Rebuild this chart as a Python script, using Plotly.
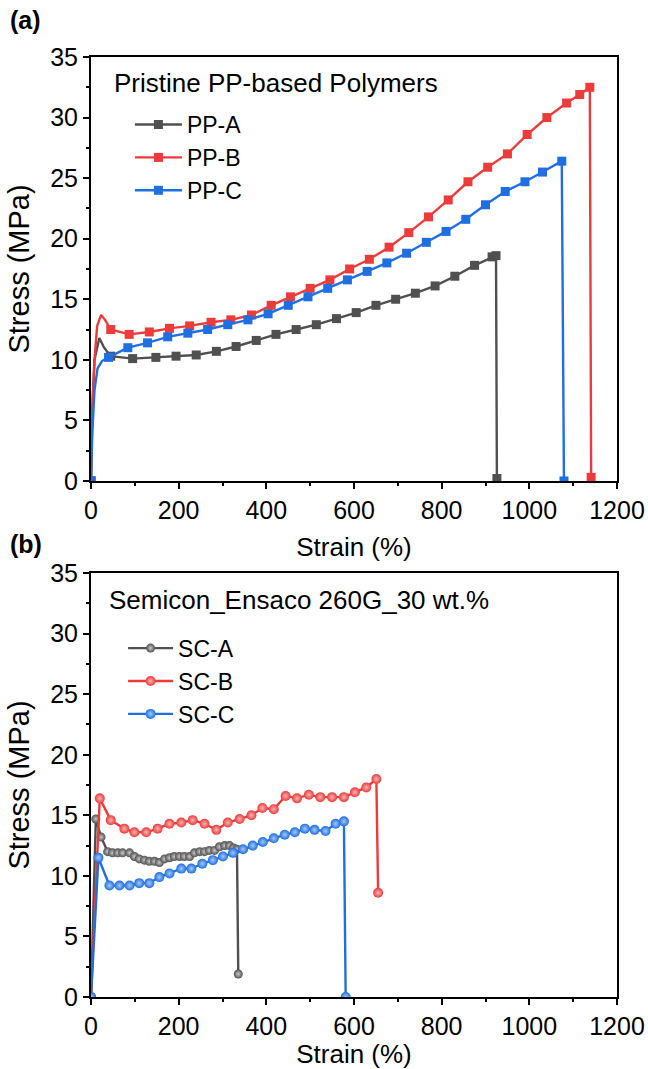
import plotly.graph_objects as go

# ---------------- data (a) pristine PP ----------------
ppa_strain = [0, 3, 8, 19, 30, 45, 95, 148, 194, 240, 286, 331, 377, 422, 468, 514, 560, 605, 650, 695, 740, 785, 830, 875, 915, 924, 926]
ppa_stress = [0, 6, 10, 11.8, 11.0, 10.3, 10.1, 10.2, 10.3, 10.4, 10.7, 11.1, 11.6, 12.1, 12.5, 12.9, 13.4, 13.9, 14.5, 15.0, 15.5, 16.1, 16.9, 17.8, 18.5, 18.6, 0.2]

ppb_strain = [0, 3, 8, 14, 23, 32, 45, 87, 133, 179, 225, 274, 319, 366, 411, 455, 500, 545, 590, 635, 680, 725, 770, 815, 860, 905, 950, 995, 1040, 1085, 1115, 1138, 1141]
ppb_stress = [0, 6, 10, 12.8, 13.7, 13.3, 12.5, 12.1, 12.3, 12.6, 12.8, 13.1, 13.3, 13.7, 14.5, 15.2, 15.9, 16.6, 17.5, 18.3, 19.3, 20.5, 21.8, 23.2, 24.7, 25.9, 27.0, 28.6, 30.0, 31.2, 31.9, 32.5, 0.3]

ppc_strain = [0, 3, 8, 15, 25, 40, 84, 129, 175, 221, 266, 312, 358, 404, 450, 495, 540, 585, 630, 675, 720, 765, 810, 855, 900, 945, 990, 1030, 1074, 1079]
ppc_stress = [0, 4, 7.5, 9.3, 9.9, 10.2, 11.0, 11.4, 11.9, 12.2, 12.5, 12.9, 13.3, 13.8, 14.5, 15.2, 15.9, 16.6, 17.3, 18.0, 18.8, 19.7, 20.6, 21.6, 22.8, 23.9, 24.7, 25.5, 26.4, 0]

# ---------------- data (b) semicon ----------------
sca_strain = [0, 11, 23, 38, 49, 61, 72, 88, 99, 110, 122, 133, 145, 156, 168, 179, 190, 202, 213, 225, 236, 248, 259, 270, 282, 293, 305, 316, 325, 333, 336]
sca_stress = [0, 14.7, 13.2, 12.0, 11.9, 11.9, 11.9, 11.9, 11.6, 11.4, 11.3, 11.2, 11.2, 11.1, 11.4, 11.5, 11.6, 11.6, 11.6, 11.6, 11.9, 12.0, 12.0, 12.1, 12.1, 12.4, 12.5, 12.5, 12.3, 12.2, 1.9]

scb_strain = [0, 20, 45, 76, 99, 126, 152, 179, 206, 232, 259, 286, 312, 339, 366, 391, 417, 444, 470, 497, 523, 550, 577, 602, 628, 651, 655]
scb_stress = [0, 16.4, 14.6, 13.9, 13.6, 13.6, 13.9, 14.3, 14.4, 14.6, 14.3, 13.8, 14.4, 14.7, 15.0, 15.6, 15.5, 16.6, 16.4, 16.7, 16.5, 16.5, 16.5, 16.9, 17.3, 18.0, 8.6]

scc_strain = [0, 17, 42, 65, 88, 110, 133, 156, 179, 206, 229, 254, 278, 301, 324, 347, 369, 392, 417, 442, 465, 488, 510, 535, 558, 577, 581]
scc_stress = [0, 11.5, 9.2, 9.2, 9.2, 9.4, 9.4, 9.9, 10.2, 10.6, 10.6, 11.0, 11.3, 11.6, 11.9, 12.2, 12.5, 12.8, 13.1, 13.4, 13.6, 13.9, 13.8, 13.7, 14.3, 14.5, 0]

x_ticks = [0, 200, 400, 600, 800, 1000, 1200]
y_ticks = [0, 5, 10, 15, 20, 25, 30, 35]

GRAY = "#505050"
RED = "#ec3b3b"
BLUE = "#1f6fe0"
FONT = "Arial, Liberation Sans, sans-serif"

fig = go.Figure()


def top_trace(name, xs, ys, color):
    # markers hidden on the initial steep rise
    mc = [color if (x == 0 or x >= 40) else "rgba(0,0,0,0)" for x in xs]
    fig.add_trace(go.Scatter(
        x=xs, y=ys, name=name, mode="lines+markers",
        line=dict(color=color, width=2.4),
        marker=dict(symbol="square", size=9, color=mc, line=dict(width=0)),
        xaxis="x", yaxis="y", legend="legend",
    ))


def bottom_trace(name, xs, ys, color, light, size):
    fig.add_trace(go.Scatter(
        x=xs, y=ys, name=name, mode="lines+markers",
        line=dict(color=color, width=2.4),
        marker=dict(symbol="circle", size=size, color=color, line=dict(width=0),
                    gradient=dict(type="radial", color=light)),
        xaxis="x2", yaxis="y2", legend="legend2",
    ))


top_trace("PP-A", ppa_strain, ppa_stress, GRAY)
top_trace("PP-B", ppb_strain, ppb_stress, RED)
top_trace("PP-C", ppc_strain, ppc_stress, BLUE)

bottom_trace("SC-A", sca_strain, sca_stress, GRAY, "#c8c8c8", 9)
bottom_trace("SC-B", scb_strain, scb_stress, RED, "#f8b4b4", 10)
bottom_trace("SC-C", scc_strain, scc_stress, BLUE, "#a6c8f6", 10)

axis_common = dict(
    showgrid=False, zeroline=False, showline=True, linecolor="black", linewidth=2,
    mirror=True, ticks="outside", ticklen=6, tickwidth=2, tickcolor="black",
    automargin=False,
    tickfont=dict(size=25, color="black", family=FONT),
)
xa = dict(axis_common, range=[0, 1200], tickvals=x_ticks,
          minor=dict(dtick=100, ticks="outside", ticklen=3, tickwidth=2, tickcolor="black"),
          title=dict(text="Strain (%)", font=dict(size=26, color="black", family=FONT), standoff=15))
ya = dict(axis_common, range=[0, 35], tickvals=y_ticks,
          minor=dict(dtick=2.5, ticks="outside", ticklen=3, tickwidth=2, tickcolor="black"),
          title=dict(text="Stress (MPa)", font=dict(size=29, color="black", family=FONT), standoff=12))

H = 0.451
fig.update_layout(
    width=648, height=1069,
    margin=dict(l=91, r=31, t=57, b=72, autoexpand=False),
    paper_bgcolor="white", plot_bgcolor="white",
    font=dict(family=FONT, color="black"),
    xaxis=dict(xa, domain=[0, 1], anchor="y"),
    yaxis=dict(ya, domain=[1 - H, 1], anchor="x"),
    xaxis2=dict(xa, domain=[0, 1], anchor="y2"),
    yaxis2=dict(ya, domain=[0, H], anchor="x2"),
    legend=dict(x=0.074, y=0.951, xanchor="left", yanchor="top", bgcolor="rgba(0,0,0,0)",
                itemwidth=47, font=dict(size=23, family=FONT, color="black"), tracegroupgap=0),
    legend2=dict(x=0.061, y=0.394, xanchor="left", yanchor="top", bgcolor="rgba(0,0,0,0)",
                 itemwidth=45, font=dict(size=23, family=FONT, color="black"), tracegroupgap=0),
    annotations=[
        dict(text="Pristine PP-based Polymers", x=0.04, y=0.972, xref="paper", yref="paper",
             xanchor="left", yanchor="middle", showarrow=False, font=dict(size=26, family=FONT)),
        dict(text="Semicon_Ensaco 260G_30 wt.%", x=0.03, y=0.4225, xref="paper", yref="paper",
             xanchor="left", yanchor="middle", showarrow=False, font=dict(size=26, family=FONT)),
        dict(text="<b>(a)</b>", x=-0.158, y=1.039, xref="paper", yref="paper",
             xanchor="left", yanchor="middle", showarrow=False, font=dict(size=25, family=FONT)),
        dict(text="<b>(b)</b>", x=-0.158, y=0.4815, xref="paper", yref="paper",
             xanchor="left", yanchor="middle", showarrow=False, font=dict(size=25, family=FONT)),
    ],
)

fig.write_html("out.html")
